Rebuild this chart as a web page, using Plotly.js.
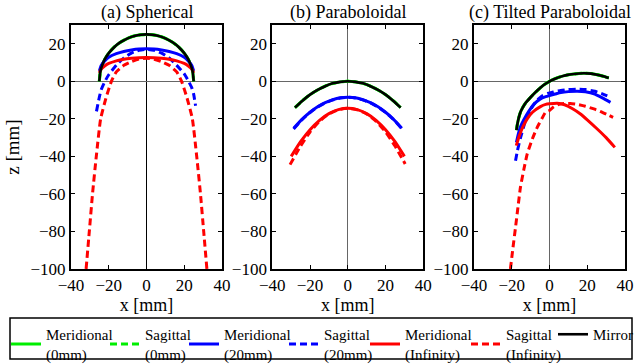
<!DOCTYPE html>
<html><head><meta charset="utf-8">
<script src="https://cdn.plot.ly/plotly-3.0.1.min.js"></script>
<style>html,body{margin:0;padding:0;background:#fff}#chart{width:634px;height:364px}</style>
</head><body><div id="chart"></div>
<script>
// ---------- (a) Spherical ----------
const sphMirrorX = [-25, -24.5, -24, -23, -22, -20, -17, -14, -10, -6, -3, 0, 3, 6, 10, 14, 17, 20, 22, 23, 24, 24.5, 25];
const sphMirrorZ = [0, 5, 7, 9.8, 11.9, 15, 18.3, 20.7, 22.9, 24.3, 24.8, 25, 24.8, 24.3, 22.9, 20.7, 18.3, 15, 11.9, 9.8, 7, 5, 0];
const sphMerBlueX = [-25, -24, -22, -20, -16, -12, -8, -4, 0, 4, 8, 12, 16, 20, 22, 24, 25];
const sphMerBlueZ = [5.5, 8.5, 11, 12.8, 14.7, 15.9, 16.7, 17.2, 17.3, 17.2, 16.7, 15.9, 14.7, 12.8, 11, 8.5, 5.5];
const sphSagBlueX = [-26.5, -25, -24, -22, -20, -16, -12, -8, -4, 0, 4, 8, 12, 16, 20, 22, 24, 25, 26];
const sphSagBlueZ = [-16, -8.5, -4.5, 0, 3.5, 8.5, 12.5, 15, 16.5, 17, 16.5, 15, 12.5, 8.5, 4, 0.5, -3.5, -7, -13];
const sphMerRedX = [-25, -24, -22, -20, -16, -12, -8, -4, 0, 4, 8, 12, 16, 20, 22, 24, 25];
const sphMerRedZ = [4.5, 6.5, 8.3, 9.5, 10.9, 11.8, 12.3, 12.6, 12.7, 12.6, 12.3, 11.8, 10.9, 9.5, 8.3, 6.5, 4.5];
const sphSagRedX = [-32, -30.3, -28.6, -26.6, -24.3, -21.5, -18.6, -16, -12, -8, -4, 0, 4, 8, 12, 16, 18.6, 21.5, 24.3, 26.6, 28.6, 30.3, 32];
const sphSagRedZ = [-100, -80, -60, -40, -20, -9, 0, 5, 8.5, 10.5, 11.8, 12.3, 11.8, 10.5, 8.5, 5, 0, -9, -20, -40, -60, -80, -100];

// ---------- (b) Paraboloidal ----------
const parMirrorX = [-28, -24, -20, -16, -12, -8, -4, 0, 4, 8, 12, 16, 20, 24, 28];
const parMirrorZ = [-14, -10.3, -7.1, -4.6, -2.6, -1.1, -0.3, 0, -0.3, -1.1, -2.6, -4.6, -7.1, -10.3, -14];
const parBlueX = [-28.7, -24, -20, -16, -12, -8, -4, 0, 4, 8, 12, 16, 20, 24, 28.6];
const parMerBlueZ = [-25, -20, -16.5, -13.6, -11.4, -9.8, -8.8, -8.5, -8.8, -9.8, -11.4, -13.6, -16.5, -20, -25];
const parSagBlueZ = [-25.4, -20.2, -16.6, -13.7, -11.5, -9.9, -8.9, -8.5, -8.9, -9.9, -11.5, -13.7, -16.6, -20.2, -25.2];
const parMerRedX = [-30, -25, -20, -15, -10, -5, 0, 5, 10, 15, 20, 25, 30];
const parMerRedZ = [-40, -32.2, -25.8, -20.8, -17.2, -15.1, -14.4, -15.1, -17.2, -20.8, -25.8, -32.2, -40];
const parSagRedX = [-30.6, -25, -20, -15, -10, -5, 0, 5, 10, 15, 20, 25, 30.4];
const parSagRedZ = [-44.4, -34.5, -27, -21.3, -17.4, -15.2, -14.4, -15.2, -17.4, -21.3, -27, -34.5, -44];

// ---------- (c) Tilted Paraboloidal ----------
const tilMirrorX = [-17.5, -17, -16.3, -15.4, -14.2, -12.5, -10, -7.5, -5, -2.5, 0, 3, 6, 9, 12.9, 18, 22, 25.3, 28, 31.4];
const tilMirrorZ = [-26, -22.8, -19.5, -16.5, -14, -11.3, -8.5, -5.9, -3.6, -1.6, 0, 1.4, 2.5, 3.3, 3.9, 4.3, 4.1, 3.5, 2.8, 1.8];
const tilMerBlueX = [-17.5, -16.5, -15.5, -13.6, -11, -8.3, -5, -2, 0, 3, 6, 10, 14.7, 19, 24, 28, 32.3];
const tilMerBlueZ = [-32.5, -28, -24.5, -20.5, -16, -12.3, -9.5, -8.2, -7.6, -6.8, -6, -5.5, -5.3, -5.6, -6.8, -8.8, -11.2];
const tilSagBlueX = [-18, -17, -15.3, -13, -10, -7, -4, -1, 2, 6, 10, 14.7, 19, 24, 28, 32.3];
const tilSagBlueZ = [-42.3, -37, -29.9, -22, -15, -10.5, -7.8, -6.5, -5.7, -4.9, -4.4, -4.2, -4.4, -5.3, -6.7, -8.5];
const tilMerRedX = [-17.6, -16, -14, -11.8, -9, -4.8, -2, 0, 4.1, 8, 12, 16.4, 20, 25.3, 30, 34.6];
const tilMerRedZ = [-34.3, -29, -24, -20, -16.5, -13.5, -12.3, -12, -11.7, -12.5, -14.5, -17.4, -20.5, -25.4, -30, -35.2];
const tilSagRedX = [-20.7, -19.4, -18, -16.7, -15.4, -13.6, -11.8, -9, -6.5, -4, -2.1, 0, 2.3, 5, 7.6, 11, 14.7, 19, 23.5, 28, 33.7];
const tilSagRedZ = [-100, -89, -77.8, -67, -56.5, -47, -38.7, -30.5, -24.5, -19.8, -16.5, -15.5, -13.5, -12.3, -11.8, -11.8, -12.3, -13.3, -14.7, -16.5, -19.2];

// ---------- legend / titles ----------
const seriesNames = ['Meridional<br>(0mm)', 'Sagittal<br>(0mm)', 'Meridional<br>(20mm)', 'Sagittal<br>(20mm)', 'Meridional<br>(Infinity)', 'Sagittal<br>(Infinity)', 'Mirror'];
const panelTitles = ['(a) Spherical', '(b) Paraboloidal', '(c) Tilted Paraboloidal'];
const xTitle = 'x [mm]';
const yTitle = 'z [mm]';

// green (0mm) series coincide with the mirror profile in every panel
const panels = [
  [[sphMirrorX, sphMirrorZ], [sphMirrorX, sphMirrorZ], [sphMerBlueX, sphMerBlueZ], [sphSagBlueX, sphSagBlueZ], [sphMerRedX, sphMerRedZ], [sphSagRedX, sphSagRedZ], [sphMirrorX, sphMirrorZ]],
  [[parMirrorX, parMirrorZ], [parMirrorX, parMirrorZ], [parBlueX, parMerBlueZ], [parBlueX, parSagBlueZ], [parMerRedX, parMerRedZ], [parSagRedX, parSagRedZ], [parMirrorX, parMirrorZ]],
  [[tilMirrorX, tilMirrorZ], [tilMirrorX, tilMirrorZ], [tilMerBlueX, tilMerBlueZ], [tilSagBlueX, tilSagBlueZ], [tilMerRedX, tilMerRedZ], [tilSagRedX, tilSagRedZ], [tilMirrorX, tilMirrorZ]]
];

const colors = ['#00ee00', '#00ee00', '#0000ff', '#0000ff', '#ff0000', '#ff0000', '#000000'];
const dashes = ['solid', '7px,4px', 'solid', '7px,4px', 'solid', '7px,4px', 'solid'];
const widths = [3, 3, 3, 3, 3, 3, 2.6];
const legendIds = ['legend', 'legend2', 'legend3', 'legend4', 'legend5', 'legend6', 'legend7'];
const legendTextStart = [46, 145, 224, 324, 405, 506, 593];

const W = 634, H = 364, ML = 71, MR = 9, MT = 25, MB = 95;
const PW = W - ML - MR, PH = H - MT - MB;
const FONT = 'Times New Roman, serif';

const traces = [];
panels.forEach((panel, p) => {
  const xa = p === 0 ? 'x' : 'x' + (p + 1);
  const ya = p === 0 ? 'y' : 'y' + (p + 1);
  panel.forEach((s, i) => {
    traces.push({
      x: s[0], y: s[1], type: 'scatter', mode: 'lines',
      name: seriesNames[i], xaxis: xa, yaxis: ya,
      line: {color: colors[i], width: widths[i], dash: dashes[i], shape: 'spline', smoothing: 0.5},
      showlegend: p === 0, legend: legendIds[i], hoverinfo: 'skip'
    });
  });
});

const domains = [[0, 151 / PW], [(272.3 - ML) / PW, (423.3 - ML) / PW], [(474 - ML) / PW, 1]];
const layout = {
  width: W, height: H,
  margin: {l: ML, r: MR, t: MT, b: MB, autoexpand: false},
  paper_bgcolor: '#fff', plot_bgcolor: '#fff',
  font: {family: FONT, color: '#000'},
  annotations: [], shapes: []
};
domains.forEach((d, p) => {
  const k = p === 0 ? '' : String(p + 1);
  layout['xaxis' + k] = {
    domain: d, anchor: 'y' + k, range: [-40, 40], dtick: 20, tick0: 0,
    ticks: 'inside', ticklen: 4, tickwidth: 1, tickcolor: '#000',
    showline: true, linecolor: '#000', linewidth: 2, mirror: 'ticks',
    showgrid: false, zeroline: true, zerolinecolor: p === 0 ? '#000' : '#666', zerolinewidth: 1,
    tickfont: {family: FONT, size: 17, color: '#000'},
    title: {text: xTitle, font: {family: FONT, size: 18, color: '#000'}, standoff: 0}
  };
  layout['yaxis' + k] = {
    domain: [0, 1], anchor: 'x' + k, range: [-100, 30], dtick: 20, tick0: 0,
    ticks: 'inside', ticklen: 4, tickwidth: 1, tickcolor: '#000',
    showline: true, linecolor: '#000', linewidth: 2, mirror: 'ticks',
    showgrid: false, zeroline: true, zerolinecolor: '#666', zerolinewidth: 1,
    tickfont: {family: FONT, size: 17, color: '#000'},
    title: p === 0 ? {text: yTitle, font: {family: FONT, size: 19, color: '#000'}, standoff: 6} : {text: ''}
  };
  layout.annotations.push({
    text: panelTitles[p], xref: 'paper', yref: 'paper',
    x: (d[0] + d[1]) / 2, y: 1 + (MT - 13) / PH, xanchor: 'center', yanchor: 'middle',
    showarrow: false, font: {family: FONT, size: 18, color: '#000'}
  });
});
legendIds.forEach((id, i) => {
  layout[id] = {
    x: (legendTextStart[i] - 40 - ML) / PW, xanchor: 'left',
    y: (PH - (318 - MT)) / PH, yanchor: 'top',
    orientation: 'v', bgcolor: 'rgba(0,0,0,0)', borderwidth: 0, valign: 'middle',
    font: {family: FONT, size: 15, color: '#000'}, itemwidth: 30
  };
});
layout.shapes.push({
  type: 'rect', xref: 'paper', yref: 'paper', layer: 'above',
  x0: (10 - ML) / PW, x1: (632 - ML) / PW,
  y0: (PH - (318 - MT)) / PH, y1: (PH - (359 - MT)) / PH,
  line: {color: '#000', width: 1.5}, fillcolor: 'rgba(0,0,0,0)'
});

Plotly.newPlot('chart', traces, layout, {displayModeBar: false, staticPlot: true});
</script></body></html>
